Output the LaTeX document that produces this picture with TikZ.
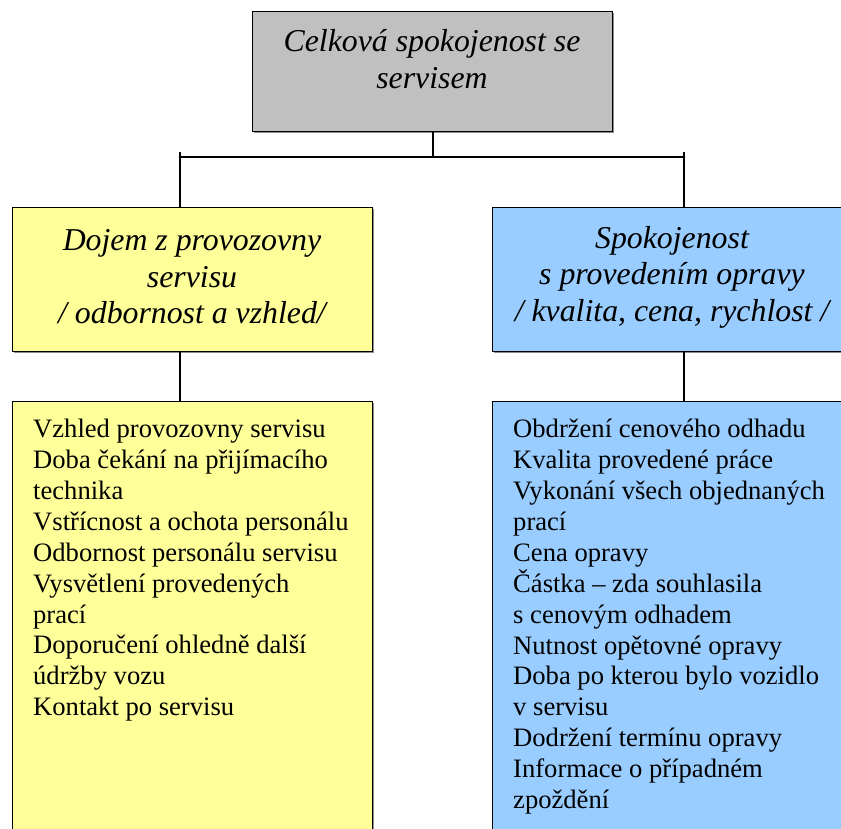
\documentclass[tikz,border=0pt]{standalone}
\usepackage{fontspec}
\setmainfont{Liberation Serif}
\definecolor{topgray}{HTML}{C0C0C0}
\definecolor{boxyellow}{HTML}{FFFF99}
\definecolor{boxblue}{HTML}{99CCFF}
\tikzset{
  panel/.style={draw=black, line width=1.3pt, inner sep=0pt, anchor=north west},
  shade/.style={fill=black!45, draw=none, inner sep=0pt, anchor=north west},
  headtext/.style={align=center, inner sep=0pt, font=\fontsize{31.8}{36.5}\selectfont\itshape},
  listtext/.style={align=left, inner sep=0pt, anchor=north west, font=\fontsize{26.6}{30.9}\selectfont},
  link/.style={draw=black, line width=1.3pt}
}
\begin{document}
\begin{tikzpicture}[x=1pt, y=-1pt]
  \useasboundingbox (0,0) rectangle (841,829);
  \clip (0,0) rectangle (841,829);

  % top box
  \node[shade, minimum width=360pt, minimum height=120pt] at (254,13) {};
  \node[panel, fill=topgray, minimum width=360pt, minimum height=120pt] (top) at (252,11) {};
  \node[headtext] (toptxt) at (432,59) {Celková spokojenost se\\servisem};

  % second level
  \node[shade, minimum width=360pt, minimum height=144pt] at (14,209) {};
  \node[panel, fill=boxyellow, minimum width=360pt, minimum height=144pt] (dojem) at (12,207) {};
  \node[shade, minimum width=360pt, minimum height=144pt] at (494,209) {};
  \node[panel, fill=boxblue, minimum width=360pt, minimum height=144pt] (oprava) at (492,207) {};
  \node[headtext] (dojemtxt) at (192,277) {Dojem z provozovny\\servisu\\/ odbornost a vzhled/};
  \node[headtext] (opravatxt) at (672,277) {Spokojenost\\s provedením opravy\\/ kvalita, cena, rychlost /};

  % third level
  \node[shade, minimum width=360pt, minimum height=460pt] at (14,403) {};
  \node[panel, fill=boxyellow, minimum width=360pt, minimum height=460pt] (dojemlist) at (12,401) {};
  \node[shade, minimum width=360pt, minimum height=460pt] at (494,403) {};
  \node[panel, fill=boxblue, minimum width=360pt, minimum height=460pt] (opravalist) at (492,401) {};

  \node[listtext] (dojemitems) at (33,419) {Vzhled provozovny servisu\\
    Doba čekání na přijímacího\\
    technika\\
    Vstřícnost a ochota personálu\\
    Odbornost personálu servisu\\
    Vysvětlení provedených\\
    prací\\
    Doporučení ohledně další\\
    údržby vozu\\
    Kontakt po servisu};
  \node[listtext] (opravaitems) at (513,419) {Obdržení cenového odhadu\\
    Kvalita provedené práce\\
    Vykonání všech objednaných\\
    prací\\
    Cena opravy\\
    Částka – zda souhlasila\\
    s cenovým odhadem\\
    Nutnost opětovné opravy\\
    Doba po kterou bylo vozidlo\\
    v servisu\\
    Dodržení termínu opravy\\
    Informace o případném\\
    zpoždění};

  % connectors
  \coordinate (bus) at (433,157);
  \coordinate (busleft) at (180,157);
  \coordinate (busright) at (684,157);
  \coordinate (tickleft) at (180,152);
  \coordinate (tickright) at (684,152);
  \draw[link] (top.south -| bus) -- (bus);
  \draw[link] (busleft) -- (busright);
  \draw[link] (tickleft) -- (dojem.north -| tickleft);
  \draw[link] (tickright) -- (oprava.north -| tickright);
  \draw[link] (dojem.south -| tickleft) -- (dojemlist.north -| tickleft);
  \draw[link] (oprava.south -| tickright) -- (opravalist.north -| tickright);
\end{tikzpicture}
\end{document}
